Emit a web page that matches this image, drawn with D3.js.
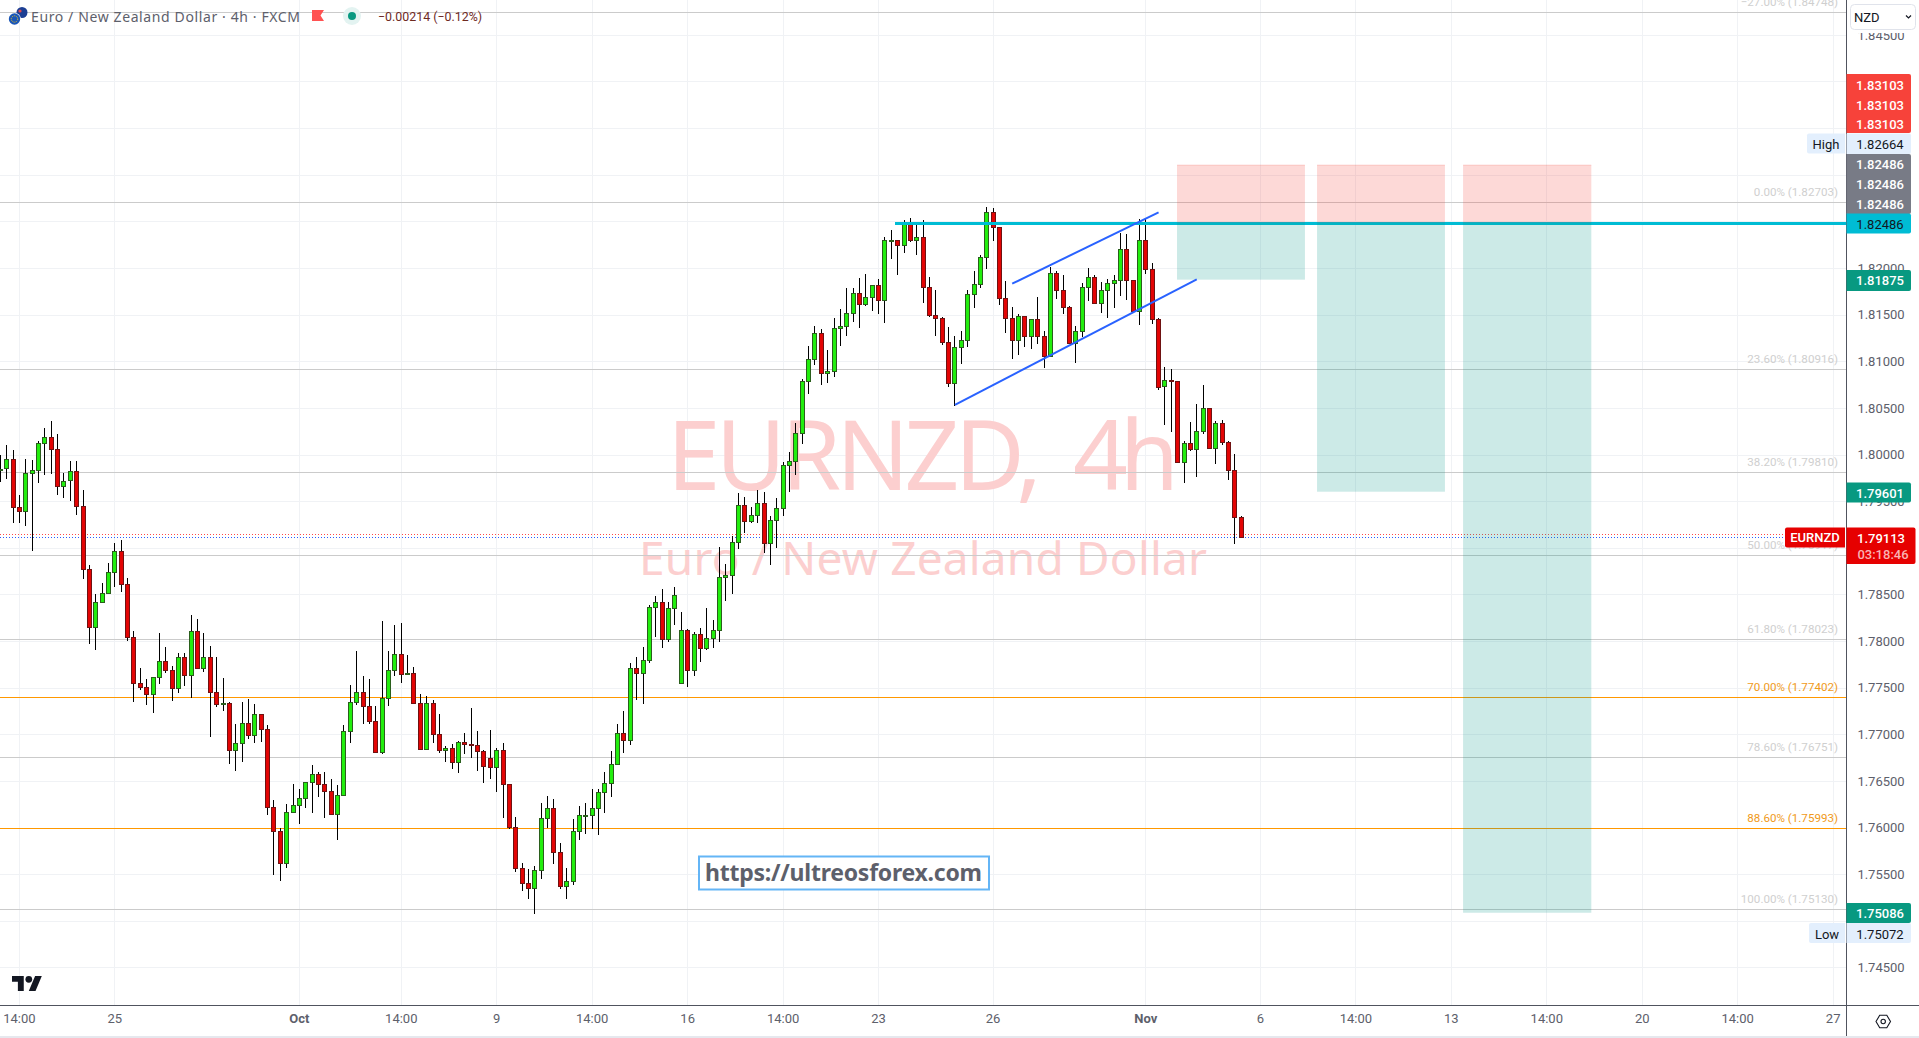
<!DOCTYPE html>
<html>
<head>
<meta charset="utf-8">
<title>EURNZD 4h</title>
<script src="https://cdn.jsdelivr.net/npm/d3@7"></script>
<style>
  html, body { margin: 0; padding: 0; background: #fff; overflow: hidden; }
  text { font-family: Roboto, "Noto Sans", sans-serif; }
  .wide { font-family: "Noto Sans", Roboto, sans-serif; }
  .axis path, .axis line { display: none; }
  .axis text { font-size: 13px; fill: #5d606b; font-family: Roboto, sans-serif; }
</style>
</head>
<body>
<svg id="chart" width="1919" height="1038"></svg>
<script>
// candles, oldest first
const opens = [1.79836,1.79847,1.79950,1.79429,1.79386,1.79800,1.79825,1.80122,1.80186,1.80058,
1.79654,1.79718,1.79815,1.79447,1.78765,1.78150,1.78411,1.78508,1.78733,1.78958,
1.78604,1.78036,1.77543,1.77500,1.77425,1.77608,1.77779,1.77683,1.77490,1.77822,
1.77629,1.78100,1.77704,1.77822,1.77447,1.77318,1.77329,1.76822,1.76900,1.77115,
1.76986,1.77211,1.77050,1.76215,1.75958,1.75615,1.76161,1.76236,1.76311,1.76483,
1.76568,1.76461,1.76386,1.76140,1.76343,1.77029,1.77340,1.77447,1.77297,1.77136,
1.76804,1.77383,1.77683,1.77854,1.77640,1.77650,1.77329,1.76836,1.77329,1.76997,
1.76825,1.76847,1.76693,1.76911,1.76890,1.76879,1.76815,1.76740,1.76643,1.76825,
1.76461,1.76000,1.75561,1.75400,1.75347,1.75540,1.76097,1.76204,1.75733,1.75368,
1.75422,1.75958,1.76129,1.76129,1.76204,1.76375,1.76472,1.76675,1.77008,1.76933,
1.77704,1.77650,1.77790,1.78358,1.78411,1.78015,1.78347,1.77543,1.78111,1.77683,
1.78068,1.77918,1.78025,1.78111,1.78679,1.78700,1.79054,1.79450,1.79279,1.79343,
1.79472,1.79043,1.79290,1.79418,1.79879,1.79922,1.80222,1.80779,1.81015,1.81293,
1.80865,1.80886,1.81347,1.81368,1.81508,1.81722,1.81604,1.81679,1.81808,1.81647,
1.82286,1.82290,1.82236,1.82483,1.82297,1.82322,1.81786,1.81486,1.81454,1.81197,
1.80758,1.81143,1.81218,1.81711,1.81818,1.82108,1.82600,1.82429,1.81668,1.81454,
1.81218,1.81475,1.81261,1.81443,1.81261,1.81047,1.81936,1.81754,1.81572,1.81186,
1.81315,1.81786,1.81893,1.81615,1.81754,1.81829,1.81861,1.82193,1.81861,1.81529,
1.82290,1.81979,1.81443,1.80725,1.80793,1.80786,1.79911,1.80115,1.80050,1.80243,
1.80490,1.80061,1.80329,1.80125,1.79825,1.79322];
const highs = [1.79990,1.80097,1.80050,1.79561,1.79954,1.79943,1.80150,1.80279,1.80354,1.80225,
1.79804,1.79925,1.79925,1.79622,1.78811,1.78508,1.78625,1.78840,1.79054,1.79079,
1.78679,1.78111,1.77715,1.77597,1.77618,1.78090,1.77940,1.77736,1.77875,1.77875,
1.78283,1.78240,1.78090,1.77950,1.77825,1.77608,1.77343,1.77108,1.77350,1.77383,
1.77329,1.77211,1.77104,1.76290,1.76000,1.76247,1.76465,1.76408,1.76483,1.76668,
1.76600,1.76590,1.76515,1.76461,1.77104,1.77533,1.77897,1.77629,1.77597,1.77308,
1.78218,1.77897,1.78175,1.78197,1.77854,1.77725,1.77436,1.77415,1.77372,1.77222,
1.76879,1.76900,1.76933,1.77018,1.77286,1.77040,1.76836,1.77050,1.76858,1.76911,
1.76472,1.76108,1.75615,1.75550,1.75583,1.76258,1.76333,1.76311,1.75829,1.75561,
1.76086,1.76236,1.76268,1.76411,1.76418,1.76590,1.76825,1.77115,1.77254,1.77768,
1.77833,1.77940,1.78390,1.78486,1.78561,1.78422,1.78583,1.78315,1.78133,1.78100,
1.78143,1.78358,1.78229,1.79011,1.78829,1.79122,1.79583,1.79540,1.79433,1.79615,
1.79593,1.79343,1.79529,1.79915,1.80022,1.80333,1.80811,1.81168,1.81383,1.81350,
1.81122,1.81468,1.81561,1.81790,1.81790,1.81893,1.81936,1.81822,1.81883,1.82333,
1.82408,1.82300,1.82515,1.82536,1.82483,1.82515,1.81904,1.81765,1.81475,1.81368,
1.81272,1.81325,1.81765,1.81968,1.82140,1.82654,1.82643,1.82440,1.81861,1.81583,
1.81508,1.81475,1.81454,1.81690,1.81325,1.82011,1.81968,1.81925,1.81593,1.81379,
1.81840,1.82000,1.81925,1.81850,1.81883,1.81925,1.82375,1.82365,1.81861,1.82525,
1.82536,1.82054,1.81465,1.80940,1.80918,1.80790,1.80147,1.80350,1.80543,1.80747,
1.80490,1.80361,1.80372,1.80147,1.80008,1.79343];
const lows = [1.79704,1.79736,1.79265,1.79265,1.79233,1.78965,1.79693,1.79779,1.79790,1.79561,
1.79533,1.79500,1.79350,1.78665,1.77968,1.77904,1.78411,1.78508,1.78579,1.78525,
1.78000,1.77347,1.77479,1.77315,1.77229,1.77540,1.77658,1.77358,1.77443,1.77518,
1.77390,1.77704,1.77668,1.76972,1.77293,1.77250,1.76683,1.76608,1.76704,1.76950,
1.76908,1.76918,1.76136,1.75493,1.75429,1.75568,1.76161,1.76040,1.76211,1.76158,
1.76329,1.76104,1.76140,1.75868,1.76343,1.76908,1.77315,1.77111,1.77111,1.76804,
1.76793,1.77304,1.77625,1.77550,1.77640,1.77329,1.76836,1.76836,1.76908,1.76804,
1.76704,1.76629,1.76586,1.76790,1.76747,1.76608,1.76479,1.76522,1.76383,1.76104,
1.75979,1.75525,1.75322,1.75236,1.75075,1.75450,1.75990,1.75611,1.75343,1.75236,
1.75386,1.75868,1.75933,1.75986,1.75922,1.76161,1.76329,1.76675,1.76800,1.76886,
1.77368,1.77325,1.77768,1.78043,1.77929,1.77993,1.78172,1.77543,1.77511,1.77625,
1.77775,1.77904,1.77925,1.77990,1.78429,1.78504,1.78986,1.79158,1.79268,1.79265,
1.78943,1.78815,1.78997,1.79340,1.79597,1.79779,1.80111,1.80647,1.80958,1.80743,
1.80765,1.80829,1.81165,1.81272,1.81418,1.81358,1.81597,1.81536,1.81508,1.81411,
1.82093,1.81922,1.82165,1.82275,1.82136,1.81622,1.81475,1.81272,1.81175,1.80722,
1.80522,1.80968,1.81150,1.81568,1.81786,1.81986,1.82286,1.81608,1.81300,1.81022,
1.81065,1.81150,1.81133,1.81186,1.80925,1.81047,1.81668,1.81504,1.81186,1.80979,
1.81258,1.81643,1.81615,1.81518,1.81461,1.81572,1.81697,1.81658,1.81529,1.81390,
1.81936,1.81400,1.80693,1.80315,1.80243,1.79911,1.79693,1.80040,1.79758,1.80222,
1.80061,1.79900,1.80104,1.79725,1.79043,1.79108];
const closes = [1.79840,1.79950,1.79429,1.79386,1.79800,1.79825,1.80122,1.80186,1.80058,1.79654,
1.79715,1.79815,1.79447,1.78765,1.78150,1.78408,1.78508,1.78733,1.78958,1.78604,
1.78036,1.77543,1.77497,1.77425,1.77608,1.77779,1.77683,1.77490,1.77822,1.77629,
1.78100,1.77704,1.77822,1.77447,1.77318,1.77329,1.76822,1.76900,1.77115,1.76986,
1.77211,1.77050,1.76215,1.75958,1.75615,1.76161,1.76236,1.76311,1.76483,1.76568,
1.76461,1.76386,1.76140,1.76343,1.77029,1.77340,1.77447,1.77297,1.77136,1.76804,
1.77383,1.77683,1.77854,1.77640,1.77650,1.77329,1.76836,1.77329,1.76997,1.76825,
1.76847,1.76693,1.76911,1.76890,1.76879,1.76815,1.76654,1.76643,1.76825,1.76461,
1.76000,1.75561,1.75400,1.75347,1.75540,1.76097,1.76204,1.75733,1.75368,1.75422,
1.75958,1.76129,1.76133,1.76204,1.76375,1.76472,1.76675,1.77008,1.76933,1.77704,
1.77650,1.77790,1.78358,1.78411,1.78015,1.78347,1.78486,1.78111,1.77683,1.78068,
1.77918,1.78025,1.78111,1.78679,1.78700,1.79054,1.79450,1.79279,1.79343,1.79472,
1.79043,1.79290,1.79418,1.79879,1.79922,1.80222,1.80779,1.81015,1.81293,1.80865,
1.80886,1.81347,1.81368,1.81508,1.81722,1.81604,1.81679,1.81808,1.81647,1.82290,
1.82293,1.82236,1.82483,1.82297,1.82322,1.81786,1.81486,1.81454,1.81197,1.80758,
1.81143,1.81218,1.81711,1.81818,1.82108,1.82600,1.82429,1.81668,1.81454,1.81218,
1.81475,1.81261,1.81443,1.81261,1.81047,1.81936,1.81754,1.81572,1.81186,1.81315,
1.81786,1.81893,1.81615,1.81754,1.81829,1.81861,1.82193,1.81861,1.81529,1.82290,
1.81979,1.81443,1.80722,1.80790,1.80786,1.79911,1.80115,1.80050,1.80243,1.80490,
1.80061,1.80329,1.80125,1.79825,1.79322,1.79113];

// price axis
const priceTicks = [1.745,1.75,1.755,1.76,1.765,1.77,1.775,1.78,1.785,1.79,1.795,1.80,1.805,1.81,1.815,1.82,1.825,1.83,1.835,1.84,1.845];

// time axis, bar number and label
const timeTickBars = [3,18,47,63,78,93,108,123,138,156,180,198,213,228,243,258,273,288];
const timeTickLabels = ['14:00','25','Oct','14:00','9','14:00','16','14:00','23','26','Nov','6','14:00','13','14:00','20','14:00','27'];

// fibonacci retracement levels
const fibNames = ['\u221227.00%','0.00%','23.60%','38.20%','50.00%','61.80%','70.00%','78.60%','88.60%','100.00%'];
const fibPrices = [1.84748,1.82703,1.80916,1.79810,1.78917,1.78023,1.77402,1.76751,1.75993,1.75130];
const fibOrange = ['70.00%','88.60%'];

// three short positions
const entryPrice = 1.82486;
const stopPrice = 1.83103;
const targetPrices = [1.81875,1.79601,1.75086];
const positionFrom = [184.9,206.9,229.85];
const positionTo = [205,227,250];

// channel lines: bar number then price at each end
const channelBars = [[150,188],[159,182]];
const channelPrices = [[1.80531,1.81879],[1.81832,1.82597]];

const entryStartBar = 140.6;
const lastPrice = 1.79113;
const askPrice = 1.79139;

const WIDTH = 1919, HEIGHT = 1038;
const plotRight = 1846.5, plotBottom = 1005.5;

const svg = d3.select('#chart');

const xScale = d3.scaleLinear().domain([0, 195]).range([0.33, 1241.3]);
const yScale = d3.scaleLinear().domain([1.745, 1.80]).range([967.4, 454.5]);

const snap = v => Math.round(v - 0.5) + 0.5;
const snapY = v => Math.round(v) + 0.5;

svg.append('rect').attr('width', WIDTH).attr('height', HEIGHT).attr('fill', '#fff');

// grid
const grid = svg.append('g').attr('shape-rendering', 'crispEdges');
grid.selectAll('.h').data(priceTicks).join('line')
    .attr('x1', 0).attr('x2', plotRight)
    .attr('y1', d => snapY(yScale(d))).attr('y2', d => snapY(yScale(d)))
    .attr('stroke', '#f0f2f5');
grid.selectAll('.v').data(timeTickBars).join('line')
    .attr('x1', d => snap(xScale(d))).attr('x2', d => snap(xScale(d)))
    .attr('y1', 0).attr('y2', plotBottom)
    .attr('stroke', '#f0f2f5');

// watermark, the comma leaves a wide gap before 4h
svg.append('text').attr('class', 'wide').attr('x', 667).attr('y', 490)
    .attr('font-size', 96).attr('textLength', 375)
    .attr('fill', '#fccfcf').text('EURNZD,');
svg.append('text').attr('class', 'wide').attr('x', 1073).attr('y', 490)
    .attr('font-size', 96).attr('textLength', 106)
    .attr('fill', '#fccfcf').text('4h');
svg.append('text').attr('class', 'wide').attr('x', 639).attr('y', 575)
    .attr('font-size', 46).attr('textLength', 568)
    .attr('fill', '#fccfcf').text('Euro / New Zealand Dollar');

// fib lines
const fibG = svg.append('g').attr('shape-rendering', 'crispEdges');
fibG.selectAll('line').data(fibPrices).join('line')
    .attr('x1', 0).attr('x2', plotRight)
    .attr('y1', d => snapY(yScale(d))).attr('y2', d => snapY(yScale(d)))
    .attr('stroke', (d, i) => fibOrange.includes(fibNames[i]) ? '#ff9800' : '#cbcbcb');

// dotted price lines
svg.append('line').attr('x1', 0).attr('x2', 1785)
    .attr('y1', snap(yScale(askPrice))).attr('y2', snap(yScale(askPrice)))
    .attr('stroke', '#ff4a4a').attr('stroke-dasharray', '1 2');
svg.append('line').attr('x1', 0).attr('x2', 1785)
    .attr('y1', snap(yScale(lastPrice))).attr('y2', snap(yScale(lastPrice)))
    .attr('stroke', '#2a5cff').attr('stroke-dasharray', '1 2');

// candles
const barIdx = d3.range(opens.length);
const candles = svg.append('g').attr('shape-rendering', 'crispEdges');
candles.selectAll('.wick').data(barIdx).join('line')
    .attr('x1', i => snap(xScale(i))).attr('x2', i => snap(xScale(i)))
    .attr('y1', i => yScale(highs[i])).attr('y2', i => yScale(lows[i]))
    .attr('stroke', '#000');
candles.selectAll('.body').data(barIdx).join('rect')
    .attr('x', i => snap(xScale(i)) - 2)
    .attr('width', 4)
    .attr('y', i => snap(yScale(Math.max(opens[i], closes[i]))))
    .attr('height', i => Math.max(1, snap(yScale(Math.min(opens[i], closes[i]))) - snap(yScale(Math.max(opens[i], closes[i])))))
    .attr('fill', i => closes[i] >= opens[i] ? '#22ee0e' : '#e30404')
    .attr('stroke', i => closes[i] >= opens[i] ? '#2a5f1c' : '#6f1212');

// entry line goes under the position boxes
svg.append('line')
    .attr('x1', xScale(entryStartBar)).attr('x2', plotRight)
    .attr('y1', snapY(yScale(entryPrice))).attr('y2', snapY(yScale(entryPrice)))
    .attr('stroke', '#00bcd4').attr('stroke-width', 3).attr('shape-rendering', 'crispEdges');

// position boxes
targetPrices.forEach((t, i) => {
  const x0 = xScale(positionFrom[i]), x1 = xScale(positionTo[i]);
  svg.append('rect').attr('x', x0).attr('width', x1 - x0)
      .attr('y', yScale(stopPrice)).attr('height', yScale(entryPrice) - yScale(stopPrice))
      .attr('fill', 'rgba(244,67,54,0.2)');
  svg.append('line').attr('x1', x0).attr('x2', x1)
      .attr('y1', yScale(stopPrice)).attr('y2', yScale(stopPrice))
      .attr('stroke', 'rgba(244,67,54,0.2)');
  svg.append('rect').attr('x', x0).attr('width', x1 - x0)
      .attr('y', yScale(entryPrice)).attr('height', yScale(t) - yScale(entryPrice))
      .attr('fill', 'rgba(0,150,136,0.2)');
});

// channel
svg.selectAll('.channel').data(channelBars).join('line')
    .attr('x1', d => xScale(d[0])).attr('x2', d => xScale(d[1]))
    .attr('y1', (d, i) => yScale(channelPrices[i][0])).attr('y2', (d, i) => yScale(channelPrices[i][1]))
    .attr('stroke', '#2962ff').attr('stroke-width', 2);

// fib labels
svg.append('g').selectAll('text').data(fibPrices).join('text')
    .attr('x', 1838).attr('y', d => yScale(d) - 6)
    .attr('text-anchor', 'end').attr('font-size', 11.6)
    .attr('fill', (d, i) => fibOrange.includes(fibNames[i]) ? '#f09a1a' : '#cfcfcf')
    .text((d, i) => `${fibNames[i]} (${d.toFixed(5)})`);

// link box
svg.append('rect').attr('x', 699).attr('y', 856.5).attr('width', 290).attr('height', 33)
    .attr('fill', '#fff').attr('stroke', '#64b5f6').attr('stroke-width', 2);
svg.append('text').attr('class', 'wide').attr('x', 705).attr('y', 881)
    .attr('font-size', 23).attr('font-weight', 700).attr('fill', '#5d606b').attr('textLength', 277)
    .text('https://ultreosforex.com');

// header
const flags = svg.append('g');
flags.append('circle').attr('cx', 22).attr('cy', 12.5).attr('r', 5.5).attr('fill', '#1c3f94');
flags.append('circle').attr('cx', 20).attr('cy', 11).attr('r', 1.6).attr('fill', '#e5484d');
flags.append('circle').attr('cx', 14.5).attr('cy', 19).attr('r', 6.2).attr('fill', '#fff');
flags.append('circle').attr('cx', 14.5).attr('cy', 19).attr('r', 5.7).attr('fill', '#1a56b8');
flags.append('circle').attr('cx', 14.5).attr('cy', 19).attr('r', 3.2)
    .attr('fill', 'none').attr('stroke', '#f5c518').attr('stroke-width', 1).attr('stroke-dasharray', '1 1');

svg.append('text').attr('class', 'wide').attr('x', 31).attr('y', 21.5)
    .attr('font-size', 14).attr('fill', '#5d606b').attr('textLength', 269)
    .text('Euro / New Zealand Dollar \u00b7 4h \u00b7 FXCM');
svg.append('path').attr('d', 'M312 10H324L320.5 15.5L324 21H312Z').attr('fill', '#ff5252');
svg.append('circle').attr('cx', 352).attr('cy', 16).attr('r', 9).attr('fill', '#e3f3f1');
svg.append('circle').attr('cx', 352).attr('cy', 16).attr('r', 4).attr('fill', '#089981');
svg.append('text').attr('x', 378).attr('y', 20.5)
    .attr('font-size', 12.4).attr('fill', '#6e2a1f')
    .text('\u22120.00214 (\u22120.12%)');

// logo
svg.append('g').attr('transform', 'translate(12,972.6) scale(0.84)').attr('fill', '#131722')
    .call(g => {
      g.append('path').attr('d', 'M14 22H7V11H0V4h14v18zM28 22h-8l7.5-18h8L28 22z');
      g.append('circle').attr('cx', 20).attr('cy', 8).attr('r', 4);
    });

// axes
const axisBack = svg.append('g');
axisBack.append('rect').attr('x', plotRight).attr('y', 0).attr('width', WIDTH - plotRight).attr('height', HEIGHT).attr('fill', '#fff');
axisBack.append('rect').attr('x', 0).attr('y', plotBottom).attr('width', WIDTH).attr('height', HEIGHT - plotBottom).attr('fill', '#fff');

const yAxis = d3.axisRight(yScale).tickValues(priceTicks).tickFormat(d3.format('.5f')).tickSize(0).tickPadding(0).offset(0);
svg.append('g').attr('class', 'axis y-axis')
    .attr('transform', `translate(1881,0.5)`)
    .call(yAxis)
    .selectAll('text').attr('text-anchor', 'middle').attr('x', 0);

const xAxis = d3.axisBottom(xScale).tickValues(timeTickBars).tickFormat((d, i) => timeTickLabels[i]).tickSize(0).tickPadding(0).offset(0);
svg.append('g').attr('class', 'axis x-axis')
    .attr('transform', `translate(0,${plotBottom + 8})`)
    .call(xAxis)
    .selectAll('text')
    .attr('font-weight', (d, i) => ['Oct', 'Nov'].includes(timeTickLabels[i]) ? 700 : 400);

svg.append('line').attr('x1', 0).attr('x2', plotRight + 72.5).attr('y1', plotBottom).attr('y2', plotBottom)
    .attr('stroke', '#50535e').attr('shape-rendering', 'crispEdges');
svg.append('line').attr('x1', plotRight).attr('x2', plotRight).attr('y1', 0).attr('y2', 1036)
    .attr('stroke', '#50535e').attr('shape-rendering', 'crispEdges');
svg.append('rect').attr('x', 0).attr('y', 1036).attr('width', WIDTH).attr('height', 2).attr('fill', '#e6e8ee');

// currency selector, hides the top of the first tick
svg.append('rect').attr('x', plotRight + 1).attr('y', 0).attr('width', 72).attr('height', 33).attr('fill', '#fff');
svg.append('rect').attr('x', 1850.5).attr('y', 4.5).attr('width', 65).attr('height', 25).attr('rx', 4)
    .attr('fill', '#fff').attr('stroke', '#e0e3eb');
svg.append('text').attr('x', 1854).attr('y', 22).attr('font-size', 13).attr('fill', '#131722').text('NZD');
svg.append('path').attr('d', 'M1906 15.5l2.5 2.5l2.5-2.5').attr('fill', 'none').attr('stroke', '#131722').attr('stroke-width', 1.2);

// price tags on the scale
const tags = [
  ['1.83103', 74, 59, '#f7423a', '#fff', 500, [85, 105, 124]],
  ['1.82664', 133.5, 20.5, '#e3effd', '#131722', 400, [144]],
  ['1.82486', 154, 60, '#787b86', '#fff', 500, [164, 184, 204]],
  ['1.82486', 213.5, 20, '#00bcd4', '#131722', 400, [224]],
  ['1.81875', 270, 21, '#089981', '#fff', 500, [280.5]],
  ['1.79601', 482.5, 20, '#089981', '#fff', 500, [493]],
  ['1.75086', 903, 20, '#089981', '#fff', 500, [913.5]],
  ['1.75072', 923, 20, '#e3effd', '#131722', 400, [934]]
];
tags.forEach(t => {
  svg.append('path')
      .attr('d', `M${plotRight} ${t[1]}H1909a2 2 0 0 1 2 2V${t[1] + t[2] - 2}a2 2 0 0 1 -2 2H${plotRight}Z`)
      .attr('fill', t[3]);
  t[6].forEach(cy => {
    svg.append('text').attr('x', 1880).attr('y', cy).attr('dy', '0.35em')
        .attr('text-anchor', 'middle').attr('font-size', 13).attr('font-weight', t[5])
        .attr('fill', t[4]).text(t[0]);
  });
});

// High / Low side labels
[['High', 1807, 133.5, 144], ['Low', 1809, 923, 934]].forEach(d => {
  svg.append('path')
      .attr('d', `M${d[1] + 2} ${d[2]}H1845V${d[2] + 20}H${d[1] + 2}a2 2 0 0 1 -2 -2V${d[2] + 2}a2 2 0 0 1 2 -2Z`)
      .attr('fill', '#e3effd');
  svg.append('text').attr('x', (d[1] + 1845) / 2).attr('y', d[3]).attr('dy', '0.35em')
      .attr('text-anchor', 'middle').attr('font-size', 13).attr('fill', '#131722').text(d[0]);
});

// current price
svg.append('path').attr('d', 'M1787 527.5H1845V547.5H1787a2 2 0 0 1 -2 -2V529.5a2 2 0 0 1 2 -2Z').attr('fill', '#e60000');
svg.append('text').attr('x', 1815).attr('y', 537.5).attr('dy', '0.35em').attr('text-anchor', 'middle')
    .attr('font-size', 13).attr('font-weight', 500).attr('fill', '#fff').text('EURNZD');
svg.append('path').attr('d', 'M1846.5 527.5H1913.5a2 2 0 0 1 2 2V562a2 2 0 0 1 -2 2H1846.5Z').attr('fill', '#e60000');
svg.append('text').attr('x', 1881).attr('y', 538).attr('dy', '0.35em').attr('text-anchor', 'middle')
    .attr('font-size', 13).attr('font-weight', 500).attr('fill', '#fff').text('1.79113');
svg.append('text').attr('x', 1883).attr('y', 554).attr('dy', '0.35em').attr('text-anchor', 'middle')
    .attr('font-size', 13).attr('font-weight', 500).attr('fill', '#f9b3b3').text('03:18:46');

// settings icon
svg.append('path').attr('d', 'M1876 1021.5l3.7-6.2h7.1l3.7 6.2l-3.7 6.2h-7.1Z')
    .attr('fill', 'none').attr('stroke', '#131722').attr('stroke-width', 1.1);
svg.append('circle').attr('cx', 1883.2).attr('cy', 1021.5).attr('r', 2.2)
    .attr('fill', 'none').attr('stroke', '#131722').attr('stroke-width', 1.1);
</script>
</body>
</html>
